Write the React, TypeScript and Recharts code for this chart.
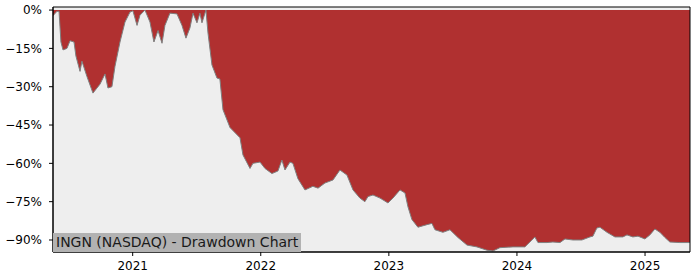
import { Area, AreaChart, XAxis, YAxis, CartesianGrid, ReferenceArea } from 'recharts';

// fractional year of each sample
const years = [
  2020.378, 2020.409, 2020.425, 2020.44, 2020.456, 2020.487, 2020.511, 2020.542, 2020.557, 2020.589,
  2020.604, 2020.643, 2020.69, 2020.745, 2020.784, 2020.807, 2020.838, 2020.862, 2020.901, 2020.94,
  2020.979, 2021.002, 2021.034, 2021.057, 2021.096, 2021.135, 2021.166, 2021.198, 2021.229, 2021.252,
  2021.291, 2021.346, 2021.385, 2021.416, 2021.447, 2021.471, 2021.502, 2021.525, 2021.541, 2021.572,
  2021.588, 2021.619, 2021.658, 2021.681, 2021.705, 2021.76, 2021.838, 2021.861, 2021.916, 2021.939,
  2021.994, 2022.033, 2022.087, 2022.134, 2022.165, 2022.189, 2022.228, 2022.251, 2022.29, 2022.345,
  2022.407, 2022.447, 2022.501, 2022.564, 2022.618, 2022.673, 2022.72, 2022.774, 2022.813, 2022.837,
  2022.876, 2022.931, 2022.993, 2023.032, 2023.087, 2023.126, 2023.149, 2023.18, 2023.227, 2023.297,
  2023.336, 2023.36, 2023.422, 2023.477, 2023.539, 2023.61, 2023.688, 2023.766, 2023.813, 2023.867,
  2023.969, 2024.062, 2024.117, 2024.14, 2024.164, 2024.234, 2024.281, 2024.336, 2024.375, 2024.437,
  2024.507, 2024.57, 2024.593, 2024.624, 2024.648, 2024.703, 2024.765, 2024.827, 2024.859, 2024.905,
  2024.945, 2024.999, 2025.038, 2025.077, 2025.116, 2025.155, 2025.194, 2025.272, 2025.351,
];

// drawdown from running peak, %
const drawdown = [
  -2.2, -0.5, -0.5, -12.5, -15.6, -15, -12, -12.5, -18, -24,
  -20, -26, -32.5, -29, -25, -30.5, -30, -22, -12.5, -4.7,
  -0.8, -0.3, -6, -2, 0, -4.7, -12.5, -8, -13, -6,
  -1.2, -1.5, -6, -11, -7, -1.2, -5, -1.2, -5, 0,
  -9, -21.5, -26.6, -27, -39, -46, -50, -56.7, -62, -60,
  -59.5, -62, -64, -63, -58.7, -62.6, -59.5, -60, -66, -70.4,
  -69, -69.7, -67.7, -66.5, -62.6, -64.6, -70.4, -73.6, -75, -73,
  -72.4, -73.6, -75.5, -73.6, -70.4, -71.6, -77, -82, -85, -84,
  -83.5, -86, -87, -86, -89, -92, -92.7, -94, -94.3, -93,
  -92.7, -92.7, -90, -88.8, -91, -91, -90.8, -91, -89.6, -90,
  -90, -88.8, -88.5, -85.3, -85, -87, -88.8, -88.8, -88, -88.8,
  -88.5, -89.6, -88, -85.7, -87, -89, -90.8, -91, -91,
];

const yearTicks = [2021, 2022, 2023, 2024, 2025];
const pctTicks = [0, -15, -30, -45, -60, -75, -90];

const xDomain: [number, number] = [2020.378, 2025.351];
const yDomain: [number, number] = [-94.7, 1.2];

const data = years.map((t, i) => ({ t, dd: drawdown[i] }));

const font = '"DejaVu Sans", sans-serif';
const tickStyle = { fontSize: 12, fill: '#000', fontFamily: font };

export default function App() {
  return (
    <div style={{ position: 'absolute', left: 0, top: 0, width: 700, height: 280, background: '#fff' }}>
      <AreaChart width={700} height={280} data={data} margin={{ top: 7, right: 10, left: 8, bottom: 8 }}>
        <CartesianGrid horizontal={false} vertical={false} fill="#eeeeee" />
        <XAxis
          dataKey="t"
          type="number"
          domain={xDomain}
          allowDataOverflow
          ticks={yearTicks}
          tickFormatter={(v) => String(v)}
          tick={tickStyle}
          tickSize={4}
          tickMargin={5}
          height={20}
          stroke="#000"
        />
        <YAxis
          type="number"
          domain={yDomain}
          allowDataOverflow
          ticks={pctTicks}
          tickFormatter={(v) => (v === 0 ? '0%' : `\u2212${Math.abs(v)}%`)}
          tick={tickStyle}
          tickSize={4}
          tickMargin={7}
          width={45}
          stroke="#000"
        />
        <Area
          type="linear"
          dataKey="dd"
          baseValue={0}
          stroke="#7f7f7f"
          strokeWidth={1}
          fill="#b03030"
          fillOpacity={1}
          isAnimationActive={false}
        />
        <ReferenceArea
          x1={xDomain[0]}
          x2={xDomain[1]}
          y1={yDomain[0]}
          y2={yDomain[1]}
          fill="none"
          stroke="#000"
          strokeWidth={1}
          ifOverflow="visible"
        />
      </AreaChart>
      <div
        style={{
          position: 'absolute',
          left: 53,
          top: 233,
          height: 19,
          lineHeight: '19px',
          padding: '0 3px',
          background: '#b2b2b2',
          color: '#1a1a1a',
          fontFamily: font,
          fontSize: 14,
          whiteSpace: 'nowrap',
        }}
      >
        INGN (NASDAQ) - Drawdown Chart
      </div>
    </div>
  );
}
